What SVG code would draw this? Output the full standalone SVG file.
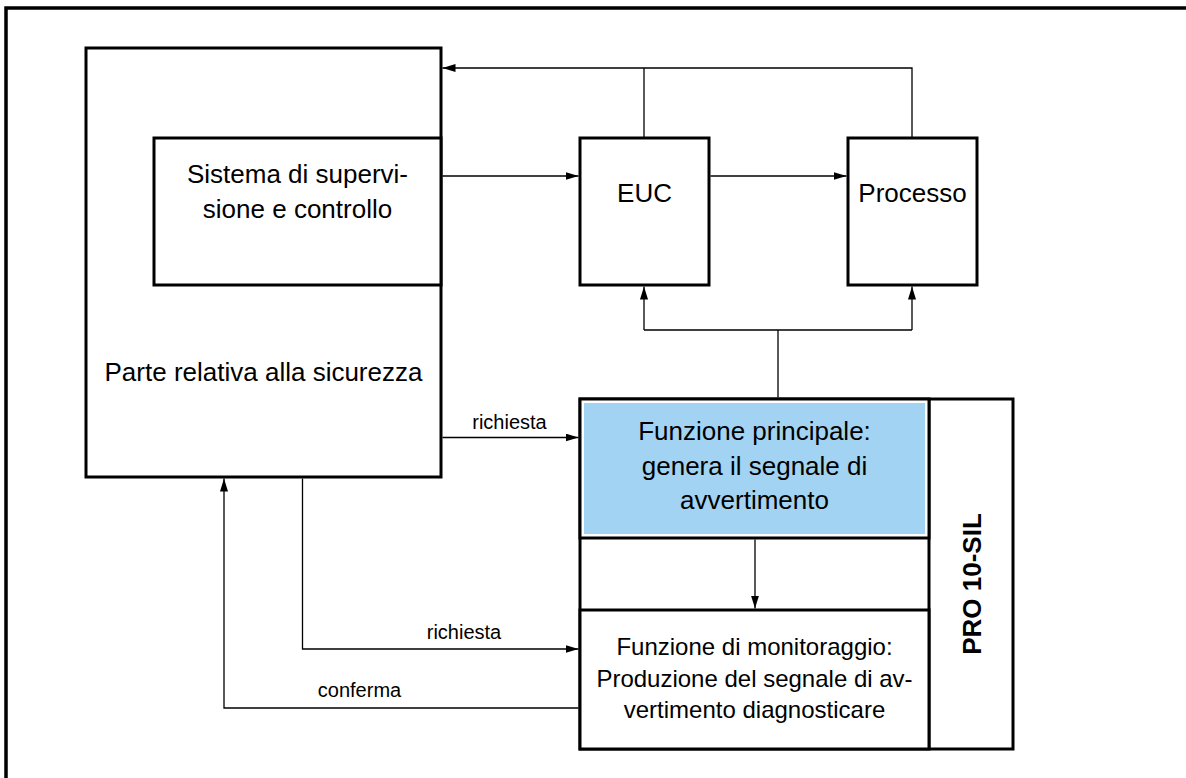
<svg xmlns="http://www.w3.org/2000/svg" width="1186" height="778" viewBox="0 0 1186 778">
<style>
.box{fill:#fff;stroke:#000;stroke-width:3}
.blue{fill:#a3d3f2;stroke:none}
.t{font-family:"Liberation Sans",Arial,sans-serif;font-size:26px;fill:#000;text-anchor:middle}
.tm{font-family:"Liberation Sans",Arial,sans-serif;font-size:24px;fill:#000;text-anchor:middle}
.lbl{font-family:"Liberation Sans",Arial,sans-serif;font-size:20px;fill:#000;text-anchor:middle}
.bold{font-family:"Liberation Sans",Arial,sans-serif;font-size:26px;font-weight:bold;fill:#000;text-anchor:middle}
.c{fill:none;stroke:#000;stroke-width:1.3}
.ca{fill:none;stroke:#000;stroke-width:1.3;marker-end:url(#arr)}
</style>
<defs>
<marker id="arr" markerUnits="userSpaceOnUse" markerWidth="14" markerHeight="10" refX="13" refY="4" orient="auto">
<path d="M0,0 L13,4 L0,8 Z" fill="#000"/>
</marker>
</defs>
<rect x="0" y="0" width="1186" height="778" fill="#fff"/>
<path d="M6,778 V8 H1186" fill="none" stroke="#000" stroke-width="3.5"/>

<g id="safety-part">
<rect class="box" x="86" y="48" width="355" height="429"/>
<text class="t" x="263.5" y="381">Parte relativa alla sicurezza</text>
</g>

<g id="supervision">
<rect class="box" x="154" y="138" width="287" height="147"/>
<text class="t" x="297.5" y="183">Sistema di supervi-</text>
<text class="t" x="297.5" y="218">sione e controllo</text>
</g>

<g id="euc">
<rect class="box" x="580" y="138" width="129" height="147"/>
<text class="t" x="644.5" y="202">EUC</text>
</g>

<g id="processo">
<rect class="box" x="848" y="138" width="129" height="147"/>
<text class="t" x="912.5" y="202">Processo</text>
</g>

<g id="pro10sil">
<rect class="box" x="580" y="399" width="433" height="350"/>
<line x1="929" y1="399" x2="929" y2="749" stroke="#000" stroke-width="3"/>
<text class="bold" transform="translate(981,584) rotate(-90)" x="0" y="0">PRO 10-SIL</text>
</g>

<g id="main-function">
<rect class="box" x="580" y="399" width="349" height="139"/>
<rect class="blue" x="584" y="403" width="341" height="131"/>
<text class="t" x="754.5" y="440">Funzione principale:</text>
<text class="t" x="754.5" y="475">genera il segnale di</text>
<text class="t" x="754.5" y="509">avvertimento</text>
</g>

<g id="monitoring">
<rect class="box" x="580" y="610" width="349" height="139"/>
<text class="tm" x="754.5" y="655">Funzione di monitoraggio:</text>
<text class="tm" x="754.5" y="687">Produzione del segnale di av-</text>
<text class="tm" x="754.5" y="718">vertimento diagnosticare</text>
</g>

<g id="connectors">
<path class="ca" d="M912,138 V68 H442.5"/>
<path class="c" d="M644,138 V68"/>
<path class="ca" d="M442.5,176 H578.5"/>
<path class="ca" d="M710.5,176 H846.5"/>
<path class="c" d="M778,397.5 V330 M644,330 H912"/>
<path class="ca" d="M644,330 V286.5"/>
<path class="ca" d="M912,330 V286.5"/>
<path class="ca" d="M442.5,437.5 H578.5"/>
<text class="lbl" x="509.5" y="429">richiesta</text>
<path class="ca" d="M302.5,478.5 V649 H578.5"/>
<text class="lbl" x="464" y="639">richiesta</text>
<path class="ca" d="M578.5,708 H224 V478.5"/>
<text class="lbl" x="359.5" y="697">conferma</text>
<path class="ca" d="M755,539.5 V608.5"/>
</g>
</svg>
